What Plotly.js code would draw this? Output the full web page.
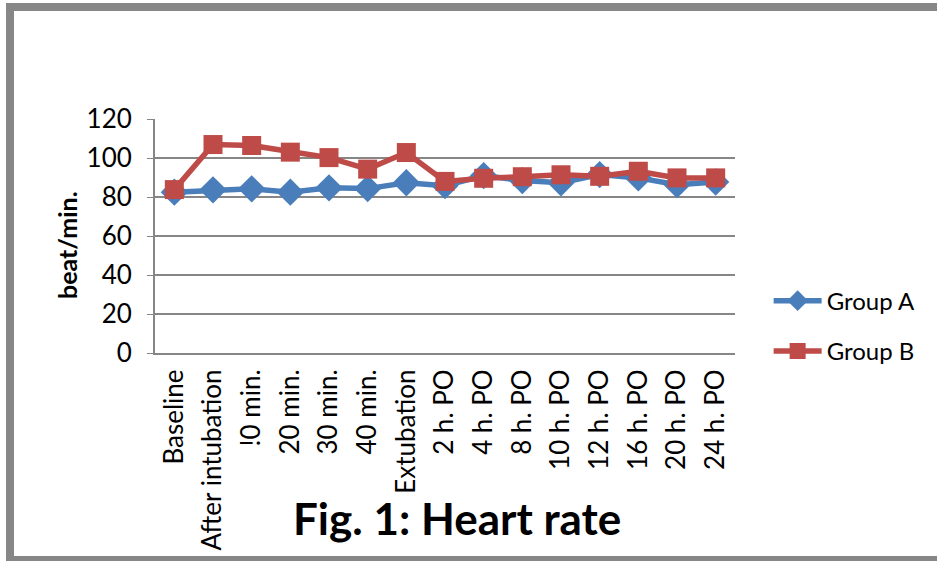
<!DOCTYPE html>
<html>
<head>
<meta charset="utf-8">
<script src="https://cdn.plot.ly/plotly-3.0.1.min.js"></script>
<style>
  html, body { margin:0; padding:0; background:#fff; }
  #wrap { position:relative; width:937px; height:561px; overflow:hidden; }
  #chart { position:absolute; left:0; top:0; width:937px; height:561px; }
  .bar { position:absolute; background:#878787; }
</style>
</head>
<body>
<div id="wrap">
  <div id="chart"></div>
  <div class="bar" style="left:6px; top:3px; width:931px; height:8px; border-top-left-radius:3px;"></div>
  <div class="bar" style="left:6px; top:3px; width:8px; height:558px;"></div>
  <div class="bar" style="left:6px; top:556px; width:931px; height:5px;"></div>
</div>
<script>
const categories = ["Baseline", "After intubation", "!0 min.", "20 min.", "30 min.", "40 min.", "Extubation",
  "2 h. PO", "4 h. PO", "8 h. PO", "10 h. PO", "12 h. PO", "16 h. PO", "20 h. PO", "24 h. PO"];
const groupA = [82.5, 83.7, 84.2, 82.5, 84.7, 84.3, 87.3, 85.8, 91, 88.4, 87.3, 91.5, 89.8, 86.3, 87.7];
const groupB = [83.8, 106.9, 106.4, 103, 100.2, 94.3, 102.8, 88, 89.6, 90.4, 91.4, 90.6, 93.2, 89.8, 89.8];
const yTicks = [0, 20, 40, 60, 80, 100, 120];

const font = "Lato, 'Open Sans', sans-serif";

const traces = [
  {
    x: categories, y: groupA, name: "Group A", type: "scatter", mode: "lines+markers",
    legendgroup: "a",
    line: { color: "#4a7ebb", width: 5.5 },
    marker: { symbol: "diamond", size: 21, color: "#4a7ebb" }
  },
  {
    x: categories, y: groupB, name: "Group B", type: "scatter", mode: "lines+markers",
    legendgroup: "b",
    line: { color: "#be4b48", width: 5.5 },
    marker: { symbol: "square", size: 19, color: "#be4b48" }
  }
];

const layout = {
  width: 937, height: 561,
  margin: { l: 155, r: 202, t: 119, b: 208 },
  paper_bgcolor: "#fff", plot_bgcolor: "#fff",
  font: { family: font, size: 26, color: "#000" },
  showlegend: true,
  legend: {
    x: 1.058, y: 0.115, xanchor: "left", yanchor: "middle",
    font: { family: font, size: 24, color: "#000" },
    itemwidth: 48,
    traceorder: "grouped", tracegroupgap: 16, bgcolor: "rgba(0,0,0,0)"
  },
  xaxis: {
    type: "category", range: [-0.5, 14.5],
    tickangle: -90, tickfont: { family: font, size: 26 },
    showgrid: false, showline: true, linecolor: "#868686", linewidth: 2,
    ticks: "", ticklabelstandoff: 4, zeroline: false, fixedrange: true
  },
  yaxis: {
    range: [0, 120], tickvals: yTicks, ticktext: yTicks.map(String),
    tickfont: { family: font, size: 26 },
    showgrid: true, gridcolor: "#868686", gridwidth: 2,
    showline: true, linecolor: "#868686", linewidth: 2,
    ticks: "outside", ticklen: 6, tickcolor: "#868686", ticklabelstandoff: 10,
    zeroline: false, fixedrange: true
  },
  annotations: [
    {
      text: "<b>beat/min.</b>", xref: "paper", yref: "paper",
      x: -0.1517, y: 0.4615, xanchor: "center", yanchor: "middle", textangle: -90,
      showarrow: false, font: { family: font, size: 25, color: "#000" }
    },
    {
      text: "<b>Fig. 1: Heart rate</b>", xref: "paper", yref: "paper",
      x: 0.52, y: -0.705, xanchor: "center", yanchor: "middle", showarrow: false,
      font: { family: font, size: 44, color: "#000" }
    }
  ]
};

Plotly.newPlot("chart", traces, layout, { displayModeBar: false, staticPlot: true });
</script>
</body>
</html>
